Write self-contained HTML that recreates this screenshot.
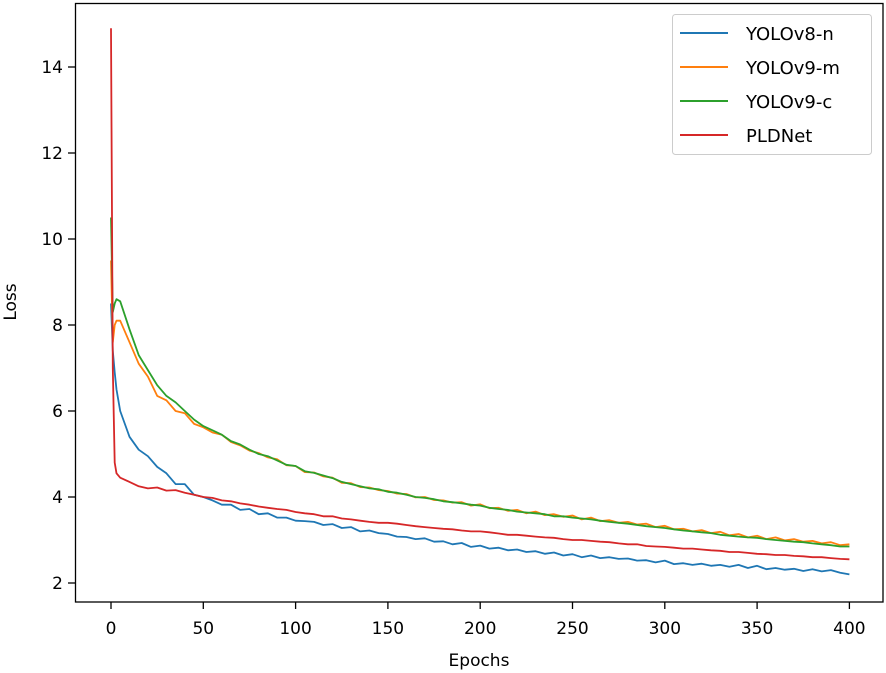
<!DOCTYPE html>
<html><head><meta charset="utf-8"><style>
html,body{margin:0;padding:0;background:#fff;}
svg{display:block;font-family:"DejaVu Sans","Liberation Sans",sans-serif;}
</style></head><body>
<svg id="chart" width="886" height="673" viewBox="0 0 886 673">
<g id="marks"></g>
<rect x="75.5" y="3.5" width="807.5" height="598.5" fill="none" stroke="#000" stroke-width="1.3"/>
<g id="xt"></g>
<g id="yt"></g>
<text x="479" y="666" font-size="17" text-anchor="middle">Epochs</text>
<text transform="translate(16,302) rotate(-90)" font-size="17" text-anchor="middle">Loss</text>
<g>
<rect x="672.5" y="14.5" width="199" height="140" rx="3" fill="#fff" stroke="#ccc" stroke-width="1"/>
<g><line x1="680" y1="33" x2="728" y2="33" stroke="#1f77b4" stroke-width="2"/><text x="746" y="40" font-size="18">YOLOv8-n</text></g>
<g><line x1="680" y1="67" x2="728" y2="67" stroke="#ff7f0e" stroke-width="2"/><text x="746" y="74" font-size="18">YOLOv9-m</text></g>
<g><line x1="680" y1="101" x2="728" y2="101" stroke="#2ca02c" stroke-width="2"/><text x="746" y="108" font-size="18">YOLOv9-c</text></g>
<g><line x1="680" y1="135" x2="728" y2="135" stroke="#d62728" stroke-width="2"/><text x="746" y="142" font-size="18">PLDNet</text></g>
</g>
</svg>
<script>
const epochs=[0,1,2,3,5,10,15,20,25,30,35,40,45,50,55,60,65,70,75,80,85,90,95,100,105,110,115,120,125,130,135,140,145,150,155,160,165,170,175,180,185,190,195,200,205,210,215,220,225,230,235,240,245,250,255,260,265,270,275,280,285,290,295,300,305,310,315,320,325,330,335,340,345,350,355,360,365,370,375,380,385,390,395,400];
const yolov8n=[8.5,7.4,6.9,6.5,6.0,5.4,5.1,4.95,4.7,4.55,4.3,4.3,4.05,4.0,3.92,3.82,3.82,3.7,3.72,3.6,3.62,3.52,3.52,3.45,3.44,3.42,3.35,3.37,3.28,3.3,3.2,3.22,3.16,3.14,3.08,3.07,3.02,3.04,2.96,2.97,2.9,2.93,2.84,2.87,2.8,2.82,2.76,2.78,2.72,2.74,2.68,2.71,2.64,2.67,2.6,2.64,2.58,2.6,2.56,2.57,2.52,2.53,2.48,2.52,2.44,2.46,2.42,2.45,2.4,2.42,2.38,2.42,2.35,2.4,2.32,2.35,2.31,2.33,2.28,2.32,2.27,2.3,2.24,2.2];
const yolov9m=[9.5,7.6,8.0,8.1,8.1,7.6,7.1,6.8,6.35,6.25,6.0,5.95,5.7,5.62,5.5,5.45,5.28,5.2,5.08,5.02,4.92,4.88,4.74,4.72,4.58,4.57,4.48,4.45,4.33,4.32,4.23,4.22,4.16,4.14,4.08,4.07,3.99,4.0,3.93,3.92,3.87,3.88,3.8,3.83,3.74,3.75,3.68,3.7,3.62,3.66,3.58,3.6,3.54,3.57,3.48,3.52,3.44,3.46,3.4,3.42,3.36,3.38,3.3,3.33,3.25,3.26,3.2,3.23,3.16,3.19,3.11,3.14,3.06,3.1,3.02,3.06,2.99,3.02,2.96,2.98,2.92,2.95,2.88,2.9];
const yolov9c=[10.5,8.3,8.5,8.6,8.55,7.9,7.3,6.95,6.6,6.35,6.2,6.0,5.8,5.65,5.55,5.45,5.3,5.22,5.1,5.0,4.95,4.85,4.75,4.72,4.6,4.56,4.5,4.44,4.35,4.3,4.25,4.2,4.18,4.12,4.1,4.05,4.0,3.98,3.95,3.9,3.88,3.85,3.82,3.8,3.75,3.72,3.7,3.66,3.64,3.62,3.6,3.55,3.55,3.52,3.5,3.48,3.45,3.42,3.4,3.38,3.35,3.32,3.3,3.28,3.25,3.22,3.2,3.18,3.16,3.12,3.1,3.08,3.06,3.05,3.02,3.0,2.98,2.96,2.95,2.92,2.9,2.88,2.85,2.85];
const pldnet=[14.9,7.0,4.8,4.55,4.45,4.35,4.25,4.2,4.22,4.15,4.16,4.1,4.05,4.0,3.98,3.92,3.9,3.85,3.82,3.78,3.75,3.72,3.7,3.65,3.62,3.6,3.55,3.55,3.5,3.48,3.45,3.42,3.4,3.4,3.38,3.35,3.32,3.3,3.28,3.26,3.25,3.22,3.2,3.2,3.18,3.15,3.12,3.12,3.1,3.08,3.06,3.05,3.02,3.0,3.0,2.98,2.96,2.95,2.92,2.9,2.9,2.86,2.85,2.84,2.82,2.8,2.8,2.78,2.76,2.75,2.72,2.72,2.7,2.68,2.67,2.65,2.65,2.63,2.62,2.6,2.6,2.58,2.56,2.55];
const xTicks=[0,50,100,150,200,250,300,350,400];
const yTicks=[2,4,6,8,10,12,14];
const xs=v=>111+v*1.846;
const ys=v=>67+(14-v)*43;
const NS="http://www.w3.org/2000/svg";
const marks=document.getElementById('marks');
const series=[[yolov8n,'#1f77b4','series-yolov8n'],[yolov9m,'#ff7f0e','series-yolov9m'],[yolov9c,'#2ca02c','series-yolov9c'],[pldnet,'#d62728','series-pldnet']];
series.forEach(s=>{
  const p=document.createElementNS(NS,'polyline');
  p.setAttribute('points',s[0].map((v,i)=>xs(epochs[i]).toFixed(1)+','+ys(v).toFixed(1)).join(' '));
  p.setAttribute('fill','none');p.setAttribute('stroke',s[1]);p.setAttribute('stroke-width','1.8');p.setAttribute('stroke-linejoin','round');
  
  
  marks.appendChild(p);
});
const xt=document.getElementById('xt');
xTicks.forEach(t=>{
  const x=xs(t);
  const l=document.createElementNS(NS,'line');
  l.setAttribute('x1',x);l.setAttribute('x2',x);l.setAttribute('y1',602);l.setAttribute('y2',609);l.setAttribute('stroke','#000');l.setAttribute('stroke-width','1.3');
  
  
  xt.appendChild(l);
  const tx=document.createElementNS(NS,'text');
  tx.setAttribute('x',x);tx.setAttribute('y',634);tx.setAttribute('font-size','17');tx.setAttribute('text-anchor','middle');tx.textContent=t;
  
  
  xt.appendChild(tx);
});
const yt=document.getElementById('yt');
yTicks.forEach(t=>{
  const y=ys(t);
  const l=document.createElementNS(NS,'line');
  l.setAttribute('x1',68);l.setAttribute('x2',75);l.setAttribute('y1',y);l.setAttribute('y2',y);l.setAttribute('stroke','#000');l.setAttribute('stroke-width','1.3');
  
  
  yt.appendChild(l);
  const tx=document.createElementNS(NS,'text');
  tx.setAttribute('x',63);tx.setAttribute('y',y+6);tx.setAttribute('font-size','17');tx.setAttribute('text-anchor','end');tx.textContent=t;
  
  
  yt.appendChild(tx);
});
</script>
</body></html>
